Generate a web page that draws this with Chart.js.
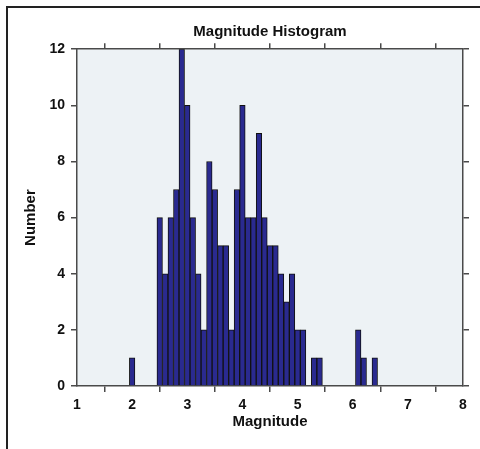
<!DOCTYPE html>
<html>
<head>
<meta charset="utf-8">
<script src="https://cdn.jsdelivr.net/npm/chart.js@4/dist/chart.umd.min.js"></script>
<style>
  html, body { margin: 0; padding: 0; background: #fff; }
  #chart { display: block; }
</style>
</head>
<body>
<canvas id="chart" width="480" height="449"></canvas>
<script>
// Bin centres (magnitude) and counts
const magnitudes = [2.0, 2.5, 2.6, 2.7, 2.8, 2.9, 3.0, 3.1, 3.2, 3.3, 3.4, 3.5, 3.6, 3.7, 3.8, 3.9,
  4.0, 4.1, 4.2, 4.3, 4.4, 4.5, 4.6, 4.7, 4.8, 4.9, 5.0, 5.1, 5.3, 5.4, 6.1, 6.2, 6.4];
const counts = [1, 6, 4, 6, 7, 12, 10, 6, 4, 2, 8, 7, 5, 5, 2, 7,
  10, 6, 6, 9, 6, 5, 5, 4, 3, 4, 2, 2, 1, 1, 2, 1, 1];
const xTicks = [1, 2, 3, 4, 5, 6, 7, 8];
const yTicks = [0, 2, 4, 6, 8, 10, 12];

const FONT = "'Liberation Sans', Arial, sans-serif";
const axisColor = '#4a4a4a';

// paints the plot background and the page frame
const framePlugin = {
  id: 'frame',
  beforeDraw(chart) {
    const { ctx, chartArea: a } = chart;
    ctx.save();
    ctx.fillStyle = '#edf2f5';
    ctx.fillRect(a.left, a.top, a.right - a.left, a.bottom - a.top);
    ctx.strokeStyle = '#222';
    ctx.lineWidth = 2;
    ctx.beginPath();
    ctx.moveTo(7, chart.height);
    ctx.lineTo(7, 7);
    ctx.lineTo(chart.width, 7);
    ctx.stroke();
    ctx.restore();
  }
};

function axis(position, min, max, step, showLabels, size) {
  return {
    type: 'linear',
    position: position,
    min: min,
    max: max,
    offset: false,
    grid: { drawOnChartArea: false, drawTicks: true, tickLength: 6, color: axisColor, lineWidth: 1.5 },
    border: { display: true, color: axisColor, width: 1.5 },
    ticks: {
      display: showLabels,
      stepSize: step,
      color: '#111',
      padding: position === 'left' ? 6 : 5,
      font: { family: FONT, size: 14, weight: 'bold' }
    },
    afterFit: (s) => {
      if (s.isHorizontal()) s.height = size; else s.width = size;
    }
  };
}

const xAxis = axis('bottom', xTicks[0], xTicks[xTicks.length - 1], 1, true, 63);
xAxis.title = { display: true, text: 'Magnitude', color: '#111',
  font: { family: FONT, size: 15, weight: 'bold', lineHeight: 1.2 }, padding: { top: 0, bottom: 18 } };
const yAxis = axis('left', yTicks[0], yTicks[yTicks.length - 1], 2, true, 77);
yAxis.title = { display: true, text: 'Number', color: '#111',
  font: { family: FONT, size: 15, weight: 'bold', lineHeight: 1.2 }, padding: { top: 22, bottom: 0 } };
const x2Axis = axis('top', xTicks[0], xTicks[xTicks.length - 1], 1, false, 8.6);
const y2Axis = axis('right', yTicks[0], yTicks[yTicks.length - 1], 2, false, 17);

new Chart(document.getElementById('chart'), {
  type: 'bar',
  data: {
    datasets: [{
      label: 'Number',
      data: magnitudes.map((m, i) => ({ x: m, y: counts[i] })),
      backgroundColor: '#2a2a90',
      borderColor: '#111',
      borderWidth: 1,
      borderSkipped: 'start',
      barPercentage: 1,
      categoryPercentage: 1
    }]
  },
  options: {
    responsive: false,
    animation: false,
    layout: { padding: 0 },
    plugins: {
      legend: { display: false },
      tooltip: { enabled: false },
      title: {
        display: true,
        fullSize: false,
        text: 'Magnitude Histogram',
        color: '#111',
        font: { family: FONT, size: 15, weight: 'bold', lineHeight: 1.2 },
        padding: { top: 22.6, bottom: 0 }
      }
    },
    scales: { x: xAxis, y: yAxis, x2: x2Axis, y2: y2Axis }
  },
  plugins: [framePlugin]
});
</script>
</body>
</html>
